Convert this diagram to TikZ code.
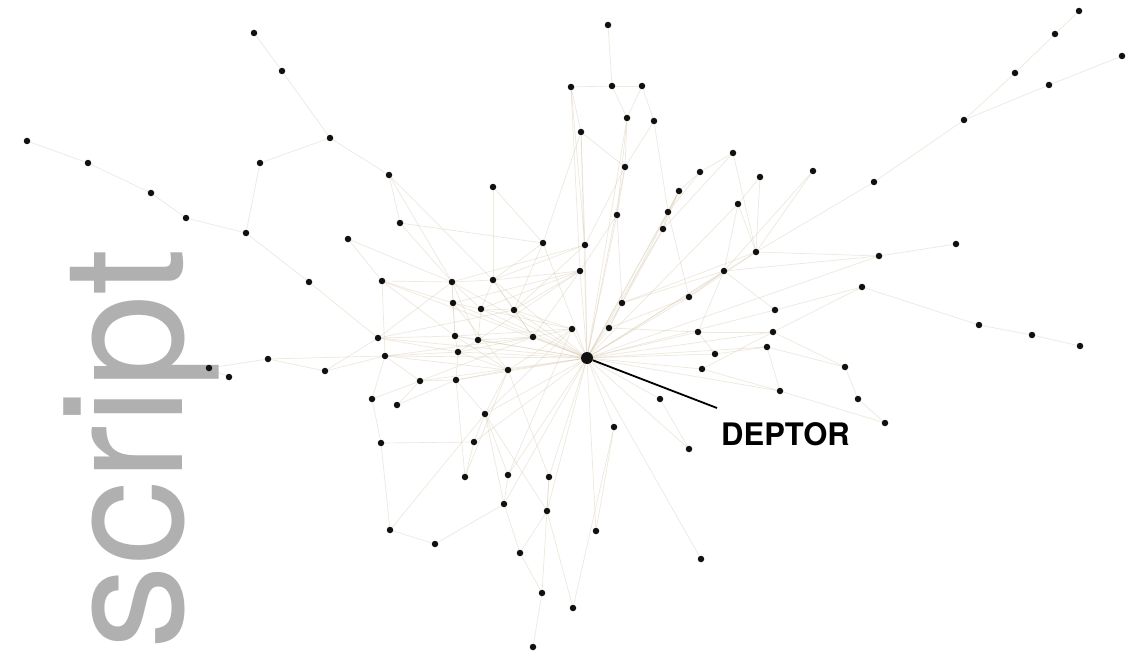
\documentclass[tikz,border=0pt]{standalone}
\usepackage{fontspec}
\newfontfamily\herosfont{TeX Gyre Heros}
\usepackage{tikz}
\usetikzlibrary{backgrounds}
\definecolor{inkdot}{HTML}{111111}
\definecolor{linktan}{HTML}{D6C8AC}
\definecolor{wmgray}{HTML}{B0B0B0}
\tikzset{
  dot/.style    ={circle,fill=inkdot,inner sep=0pt,minimum size=6.5pt},
  hub/.style    ={circle,fill=inkdot,inner sep=0pt,minimum size=12pt},
  link/.style   ={draw=linktan,line width=0.7pt,opacity=0.4},
  pointer/.style={draw=black,line width=1.8pt},
  wmark/.style  ={text=wmgray,inner sep=0pt,font=\herosfont\fontsize{168}{168}\selectfont},
  tag/.style    ={inner sep=0pt,font=\herosfont\bfseries\fontsize{31}{31}\selectfont}
}

\begin{document}
\begin{tikzpicture}[x=1pt,y=-1pt]
  % proteins
  \foreach \n/\x/\y in {p1/254/33,p2/282/71,p3/27/141,p4/88/163,p5/151/193,p6/186/218,
      p7/246/233,p8/260/163,p9/330/138,p10/348/239,p11/309/282,p12/382/281,
      p13/608/25,p14/571/87,p15/612/86,p16/642/86,p17/581/132,p18/627/118,
      p19/654/121,p20/625/167,p21/733/153,p22/700/172,p23/760/177,p24/679/191,
      p25/738/204,p26/668/212,p27/663/229,p28/617/215,p29/389/175,p30/493/187,
      p31/400/223,p32/543/243,p33/585/245,p34/756/252,p35/580/271,p36/724/271,
      p37/452/282,p38/493/280,p39/453/303,p40/481/309,p41/514/310,p42/622/303,
      p43/689/297,p44/572/329,p45/609/328,p46/698/332,p47/1079/11,p48/1055/34,
      p49/1122/56,p50/1015/73,p51/1049/85,p52/964/120,p53/813/171,p54/874/182,
      p55/956/244,p56/879/256,p57/862/287,p58/775/310,p59/773/332,p60/979/325,
      p61/1032/335,p62/767/347,p63/845/367,p64/780/391,p65/858/399,p66/885/423,
      p67/1080/346,p68/209/368,p69/229/377,p70/268/359,p71/325/371,p72/378/338,
      p73/372/399,p74/381/443,p75/455/336,p76/478/340,p77/533/337,p78/385/356,
      p79/458/352,p80/715/354,p81/702/369,p82/508/370,p83/420/381,p84/456/380,
      p85/397/405,p86/485/414,p87/660/399,p88/614/427,p89/689/449,p90/474/442,
      p91/465/477,p92/508/475,p93/549/477,p94/504/504,p95/547/511,p96/596/531,
      p97/390/530,p98/435/544,p99/520/553,p100/701/559,p101/542/593,p102/573/608,
      p103/533/647}
    \node[dot] (\n) at (\x,\y) {};
  \node[hub] (deptor) at (587,358) {};

  % label
  \node[tag,anchor=base west] (deptorlbl) at (721,445) {DEPTOR};
  \coordinate (tip) at (717,408);
  \draw[pointer] (deptor) -- (tip);

  \begin{scope}[on background layer]
    \fill[white] (0,0) rectangle (1135,666);
    \node[wmark,rotate=90,anchor=base west] (wm) at (182,650) {script};
    % interactions
    \foreach \a/\b in {p1/p2,p2/p9,p9/p29,p29/p38,p3/p4,p4/p5,p5/p6,p6/p7,p7/p11,
        p11/p72,p7/p8,p8/p9,p10/p37,p10/p12,p12/p37,p12/p39,p31/p37,p31/p32,
        p29/p37,p30/p32,p30/p38,p29/p31,
        p68/p69,p68/p70,p70/p71,p71/p72,p70/p78,p71/p78,p72/p75,p72/p79,p78/p79,
        p78/p83,p73/p78,p73/p83,p74/p73,p74/p97,p85/p83,p85/p84,p97/p98,p98/p94,
        p74/p90,p97/p86,
        p37/p38,p37/p39,p37/p40,p38/p40,p38/p41,p38/p33,p39/p40,p39/p75,p40/p41,
        p40/p76,p41/p77,p41/deptor,p75/p76,p75/p79,p76/p77,p76/p79,p77/deptor,
        p77/p44,p79/p84,p79/p82,p82/deptor,p83/p84,p84/p86,p84/p82,p86/deptor,
        p75/deptor,p76/deptor,p79/deptor,p38/deptor,p37/deptor,p39/deptor,
        p40/deptor,p72/deptor,p78/deptor,p83/deptor,p12/deptor,p32/deptor,
        p32/p38,p33/deptor,p35/deptor,p35/p38,p44/deptor,p45/deptor,p42/deptor,
        p44/p41,p32/p41,p72/p37,p78/p77,
        p37/p33,p39/p35,p40/p35,p75/p44,p76/p35,p79/p77,p82/p44,p83/p77,
        p72/p41,p78/p82,p84/deptor,p12/p75,p37/p76,p38/p77,p41/p35,p39/p82,
        p40/p44,p33/p41,p35/p77,p75/p82,p86/p82,p86/p44,p37/p75,p12/p78,
        p13/p15,p14/p17,p14/p15,p15/p18,p15/p16,p16/p19,p16/p18,p17/p20,p17/p33,
        p18/p20,p19/p20,p20/p28,p20/p33,p20/deptor,p28/deptor,p28/p35,p18/p28,
        p17/p32,p14/p35,p19/p26,p17/deptor,p18/deptor,p14/p33,
        p21/p22,p21/p34,p22/p24,p22/p26,p23/p25,p23/p34,p24/p26,p24/p27,p25/p34,
        p26/p27,p27/deptor,p27/p42,p34/deptor,p36/deptor,p43/deptor,p46/deptor,
        p53/p34,p53/p36,p54/p34,p52/p54,p50/p52,p48/p50,p47/p48,p49/p51,p51/p52,
        p24/p45,p26/p43,p28/p42,p42/p45,p43/p36,p36/p46,p25/p36,p21/p27,
        p26/deptor,p24/deptor,p25/deptor,p36/p42,p43/p45,p46/p45,p34/p42,
        p55/p56,p56/p34,p56/p36,p57/p59,p57/p60,p60/p61,p61/p67,p58/deptor,
        p59/deptor,p62/deptor,p58/p36,p59/p46,p63/p62,p64/p62,p65/p63,p66/p65,
        p66/p64,p80/deptor,p81/deptor,p87/deptor,p80/p62,p81/p64,p87/p89,
        p89/deptor,p88/deptor,p57/p58,p63/p59,p34/p43,p56/deptor,p80/p46,
        p81/p59,p64/deptor,
        p90/p86,p91/p90,p92/p86,p93/deptor,p94/p92,p95/p93,p96/deptor,p99/p94,
        p99/p95,p101/p99,p102/p95,p103/p101,p100/deptor,p91/p82,p92/deptor,
        p95/deptor,p96/p88,p102/p88,p91/p84,p94/p86,p101/p93,p90/deptor,
        p93/p82,p92/p44,p95/p86,p94/deptor}
      \draw[link] (\a) -- (\b);
  \end{scope}
\end{tikzpicture}
\end{document}
